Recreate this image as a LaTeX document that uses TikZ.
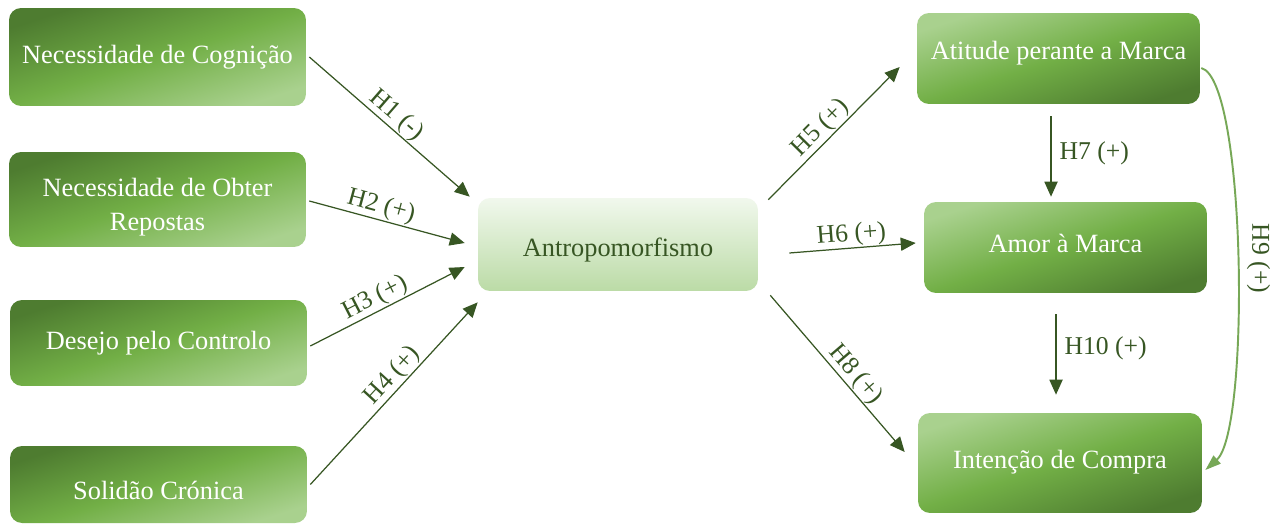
\documentclass[tikz,border=0pt]{standalone}
\usepackage{fontspec}
\setmainfont{Liberation Serif}
\usetikzlibrary{arrows.meta,calc}
\definecolor{dk}{HTML}{375623}
\definecolor{gdark}{HTML}{4E7C30}
\definecolor{gmid}{HTML}{72AF46}
\definecolor{glight}{HTML}{A9D18E}
\definecolor{atop}{HTML}{F1F8ED}
\definecolor{abot}{HTML}{BBDBA6}
\definecolor{curvec}{HTML}{77A857}
\newcommand\tsh[2]{\raisebox{#1}[\height][\depth]{#2}}
\tikzset{
  box/.style={rounded corners=0.24cm, inner sep=0pt, align=center, text=white,
    font=\fontsize{15}{19.8}\selectfont},
  leftbox/.style={box, top color=gdark, bottom color=glight, middle color=gmid, shading angle=18},
  rightbox/.style={box, top color=glight, bottom color=gdark, middle color=gmid, shading angle=18},
  centerbox/.style={box, top color=atop, bottom color=abot, text=dk},
  arr/.style={draw=dk, line width=0.7pt, -{Triangle[length=8.5pt,width=7.5pt]}},
  lab/.style={text=dk, font=\fontsize{14.6}{16}\selectfont, inner sep=0.5pt}
}
\begin{document}
\begin{tikzpicture}[x=0.02cm,y=-0.02cm]
\fill[white] (0,0) rectangle (1283,524);
\useasboundingbox (0,0) rectangle (1283,524);
% left column
\node[leftbox, minimum width=5.94cm, minimum height=1.96cm] (NC) at (157.5,57) {Necessidade de Cognição};
\node[leftbox, minimum width=5.94cm, minimum height=1.90cm] (NOR) at (157.5,199.5) {\tsh{-4pt}{\begin{tabular}{@{}c@{}}Necessidade de Obter\\Repostas\end{tabular}}};
\node[leftbox, minimum width=5.94cm, minimum height=1.72cm] (DC) at (158.5,343) {Desejo pelo Controlo};
\node[leftbox, minimum width=5.94cm, minimum height=1.54cm] (SC) at (158.5,484.5) {\tsh{-3.4pt}{Solidão Crónica}};
% center
\node[centerbox, minimum width=5.60cm, minimum height=1.86cm] (AN) at (618,244.5) {\tsh{-3.2pt}{Antropomorfismo}};
% right column
\node[rightbox, minimum width=5.66cm, minimum height=1.82cm] (AM) at (1058.5,58.5) {\tsh{2.8pt}{Atitude perante a Marca}};
\node[rightbox, minimum width=5.66cm, minimum height=1.82cm] (LM) at (1065.5,247.5) {\tsh{2.3pt}{Amor à Marca}};
\node[rightbox, minimum width=5.68cm, minimum height=2.00cm] (IC) at (1060,463) {\tsh{0.6pt}{Intenção de Compra}};
% connectors
\draw[arr] ($(NC.east)+(3,0)$) -- node[lab, sloped, above, pos=0.49] {H1 (-)} ($(AN.north west)+(-8,-1)$);
\draw[arr] ($(NOR.east)+(3,1.5)$) -- node[lab, sloped, above, pos=0.44] {H2 (+)} ($(AN.west)+(-13,-1.5)$);
\draw[arr] ($(DC.east)+(3,3)$) -- node[lab, sloped, above, pos=0.46] {H3 (+)} ($(AN.west)+(-13,22.5)$);
\draw[arr] ($(SC.east)+(3,0)$) -- node[lab, sloped, above, pos=0.55] {H4 (+)} ($(AN.south west)+(0,11)$);
\draw[arr] ($(AN.north east)+(10,2)$) -- node[lab, sloped, above, pos=0.47] {H5 (+)} ($(AM.west)+(-17,8.5)$);
\draw[arr] ($(AN.east)+(31,8.5)$) -- node[lab, sloped, above, pos=0.5] {H6 (+)} ($(LM.west)+(-8,-4.5)$);
\draw[arr] ($(AN.south east)+(12,4)$) -- node[lab, sloped, above, pos=0.56] {H8 (+)} ($(IC.west)+(-13,-11)$);
\draw[arr] ($(AM.south)+(-7.5,12)$) -- node[lab, right=4pt, pos=0.46] {H7 (+)} ($(LM.north)+(-14.5,-5)$);
\draw[arr] ($(LM.south)+(-9.5,21)$) -- node[lab, right=4pt, pos=0.42] {H10 (+)} ($(IC.north)+(-4,-18)$);
\draw[draw=curvec, line width=1.1pt, -{Triangle[length=9pt,width=6pt]}]
  ($(AM.east)+(1,9.5)$) .. controls +(45,12) and +(45,-40) .. node[lab, pos=0.5, anchor=south, rotate=-90, yshift=4.5pt] {H9 (+)} ($(IC.east)+(3,7)$);
\end{tikzpicture}
\end{document}
